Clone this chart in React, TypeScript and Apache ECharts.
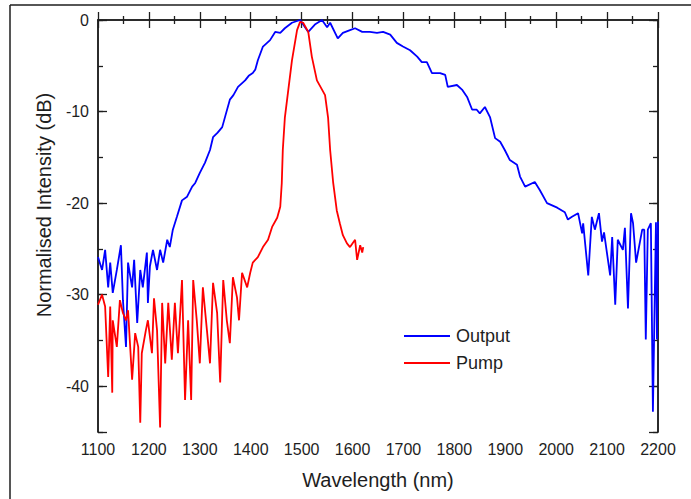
import React, { useEffect, useRef } from "react";
import * as echarts from "echarts";

const outputWavelength = [
  1100, 1108, 1114, 1120, 1124, 1129, 1137, 1145, 1149, 1155, 1159, 1167, 1171, 1177, 1183, 1188,
  1196, 1198, 1202, 1208, 1216, 1222, 1228, 1236, 1241, 1247, 1255, 1265, 1275, 1285, 1291, 1300,
  1310, 1320, 1326, 1335, 1344, 1350, 1359, 1366, 1375, 1389, 1396, 1404, 1409, 1414, 1424, 1430,
  1438, 1448, 1458, 1467, 1481, 1497, 1503, 1513, 1526, 1540, 1550, 1556, 1571, 1581, 1595, 1605,
  1619, 1634, 1648, 1660, 1674, 1687, 1699, 1713, 1727, 1736, 1746, 1756, 1772, 1782, 1787, 1805,
  1815, 1825, 1835, 1844, 1850, 1860, 1870, 1880, 1890, 1899, 1909, 1923, 1929, 1939, 1958, 1968,
  1982, 2002, 2017, 2023, 2031, 2043, 2051, 2053, 2063, 2070, 2076, 2084, 2090, 2094, 2106, 2110,
  2116, 2121, 2131, 2135, 2141, 2147, 2151, 2157, 2169, 2173, 2176, 2180, 2186, 2190, 2196, 2198,
  2200,
];
const outputIntensity = [
  -25.9, -27.3, -25.1, -29.2, -26.5, -29.8, -27.3, -24.6, -30.6, -35.7, -26.5, -29.2, -26.2, -33.1, -27.3, -29.2,
  -25.4, -30.9, -26.9, -25.1, -27.3, -25.1, -26.5, -24.0, -24.8, -22.9, -21.5, -19.7, -19.3, -18.2, -17.8, -16.7,
  -15.6, -14.2, -12.8, -12.3, -11.7, -10.5, -8.7, -8.2, -7.3, -6.6, -6.1, -5.8, -5.4, -4.4, -2.9, -2.6,
  -2.2, -1.3, -1.4, -0.9, -0.3, 0, -0.5, -1.3, -0.5, 0, -0.8, -0.3, -2.0, -1.4, -1.1, -0.9,
  -1.3, -1.3, -1.4, -1.3, -1.6, -2.5, -2.9, -3.3, -4.0, -4.6, -4.6, -5.8, -5.8, -6.0, -7.3, -7.1,
  -7.6, -8.4, -9.8, -9.8, -10.2, -9.5, -10.6, -12.9, -13.3, -14.2, -15.3, -15.8, -17.1, -18.2, -17.7, -18.6,
  -20.0, -20.5, -21.0, -21.8, -21.5, -21.1, -23.3, -22.2, -27.9, -21.5, -22.9, -21.1, -24.2, -23.2, -27.9, -23.7,
  -31.1, -24.0, -25.1, -22.7, -31.5, -21.1, -22.2, -26.5, -22.9, -22.9, -34.9, -22.9, -22.2, -42.8, -22.1, -34.9,
  -22.0,
];

const pumpWavelength = [
  1100, 1108, 1114, 1120, 1124, 1128, 1129, 1137, 1143, 1149, 1155, 1159, 1167, 1173, 1179, 1183,
  1186, 1194, 1198, 1206, 1210, 1216, 1222, 1226, 1232, 1238, 1245, 1251, 1257, 1265, 1271, 1277,
  1283, 1287, 1294, 1300, 1306, 1314, 1320, 1326, 1334, 1340, 1346, 1353, 1359, 1365, 1373, 1377,
  1383, 1393, 1399, 1404, 1414, 1424, 1434, 1442, 1452, 1458, 1461, 1463, 1467, 1481, 1491, 1497,
  1503, 1513, 1520, 1530, 1546, 1552, 1556, 1562, 1569, 1575, 1581, 1589, 1595, 1605, 1609, 1615,
  1619, 1621,
];
const pumpIntensity = [
  -31.1, -30.0, -31.3, -39.0, -31.3, -40.7, -32.8, -35.7, -30.6, -32.0, -32.8, -31.7, -39.3, -34.2, -35.7, -44.0,
  -36.4, -33.9, -32.8, -36.4, -30.4, -33.9, -44.5, -30.9, -37.5, -30.9, -37.1, -30.9, -36.4, -28.4, -41.5, -32.8,
  -41.5, -28.4, -32.8, -37.5, -29.2, -33.9, -37.5, -28.7, -32.0, -39.6, -28.4, -32.8, -35.3, -28.1, -30.3, -32.8,
  -27.6, -29.2, -27.6, -26.5, -25.9, -24.8, -24.0, -22.6, -21.6, -20.4, -17.8, -14.2, -10.7, -4.4, -1.1, -0.2,
  -0.3, -1.3, -4.0, -6.6, -8.2, -10.7, -14.2, -17.8, -20.8, -22.2, -23.5, -24.4, -24.8, -24.0, -26.2, -24.6,
  -25.4, -24.8,
];

const seriesNames = ["Output", "Pump"];
const seriesColors = ["#0000ff", "#ff0000"];
const xAxisTitle = "Wavelength (nm)";
const yAxisTitle = "Normalised Intensity (dB)";

const FONT = "'Liberation Sans', Arial, sans-serif";
const INK = "#1e1e1e";

function zip(xs: number[], ys: number[]) {
  return xs.map((x, i) => [x, ys[i]]);
}

export default function App() {
  const ref = useRef<HTMLDivElement>(null);
  useEffect(() => {
    if (!ref.current) return;
    const chart = echarts.init(ref.current, undefined, { renderer: "svg" });
    const axisLine = { show: true, lineStyle: { color: INK, width: 1.5 } };
    const labelStyle = { fontSize: 16, color: INK, fontFamily: FONT, margin: 9 };
    const xCommon = (pos: "bottom" | "top", showLabel: boolean) => ({
      type: "value" as const,
      min: 1100,
      max: 2200,
      interval: 100,
      position: pos,
      axisLine,
      axisTick: { show: true, inside: true, length: 8, lineStyle: { color: INK, width: 1.3 } },
      minorTick: { show: true, splitNumber: 2, length: 4, lineStyle: { color: INK, width: 1.3 } },
      splitLine: { show: false },
      axisLabel: { show: showLabel, ...labelStyle, formatter: (v: number) => String(v) },
    });
    const yMajor = (pos: "left" | "right", showLabel: boolean) => ({
      type: "value" as const,
      min: -45,
      max: 0,
      splitNumber: 5,
      position: pos,
      axisLine,
      axisTick: { show: true, inside: true, length: 9, lineStyle: { color: INK, width: 1.3 } },
      splitLine: { show: false },
      axisLabel: {
        show: showLabel,
        ...labelStyle,
        formatter: (v: number) => (Math.abs(v % 10) < 1e-6 ? String(v) : ""),
      },
    });
    const yMinor = (pos: "left" | "right") => ({
      type: "value" as const,
      min: -45,
      max: 0,
      interval: 5,
      position: pos,
      axisLine,
      axisTick: { show: true, inside: true, length: 5, lineStyle: { color: INK, width: 1.3 } },
      splitLine: { show: false },
      axisLabel: { show: false },
    });

    chart.setOption({
      animation: false,
      backgroundColor: "#ffffff",
      grid: { left: 98, top: 20, right: 33, bottom: 67, containLabel: false },
      xAxis: [xCommon("bottom", true), xCommon("top", false)],
      yAxis: [yMajor("left", true), yMinor("left"), yMajor("right", false), yMinor("right")],
      legend: {
        data: seriesNames,
        icon: "rect",
        orient: "vertical",
        left: 404,
        top: 327,
        padding: 0,
        itemWidth: 46,
        itemHeight: 2,
        itemGap: 9,
        textStyle: { fontSize: 18, color: INK, fontFamily: FONT, padding: [0, 0, 0, 1] },
      },
      series: [
        {
          name: seriesNames[0],
          type: "line",
          data: zip(outputWavelength, outputIntensity),
          symbol: "none",
          color: seriesColors[0],
          lineStyle: { width: 1.8, color: seriesColors[0] },
          xAxisIndex: 0,
          yAxisIndex: 0,
        },
        {
          name: seriesNames[1],
          type: "line",
          data: zip(pumpWavelength, pumpIntensity),
          symbol: "none",
          color: seriesColors[1],
          lineStyle: { width: 1.8, color: seriesColors[1] },
          xAxisIndex: 0,
          yAxisIndex: 0,
        },
      ],
      graphic: [
        { type: "line", shape: { x1: 10, y1: 5, x2: 691, y2: 5 }, style: { stroke: INK, lineWidth: 1.5 } },
        { type: "line", shape: { x1: 10, y1: 5, x2: 10, y2: 499 }, style: { stroke: INK, lineWidth: 1.5 } },
        {
          type: "text",
          x: 378,
          y: 480,
          style: { text: xAxisTitle, fontSize: 20, fontFamily: FONT, fill: INK, align: "center", verticalAlign: "middle" },
        },
        {
          type: "text",
          x: 44,
          y: 205,
          rotation: Math.PI / 2,
          style: { text: yAxisTitle, fontSize: 20, fontFamily: FONT, fill: INK, align: "center", verticalAlign: "middle" },
        },
      ],
    });
    return () => chart.dispose();
  }, []);
  return (
    <div
      ref={ref}
      style={{ position: "absolute", left: 0, top: 0, width: 691, height: 499, background: "#fff" }}
    />
  );
}
